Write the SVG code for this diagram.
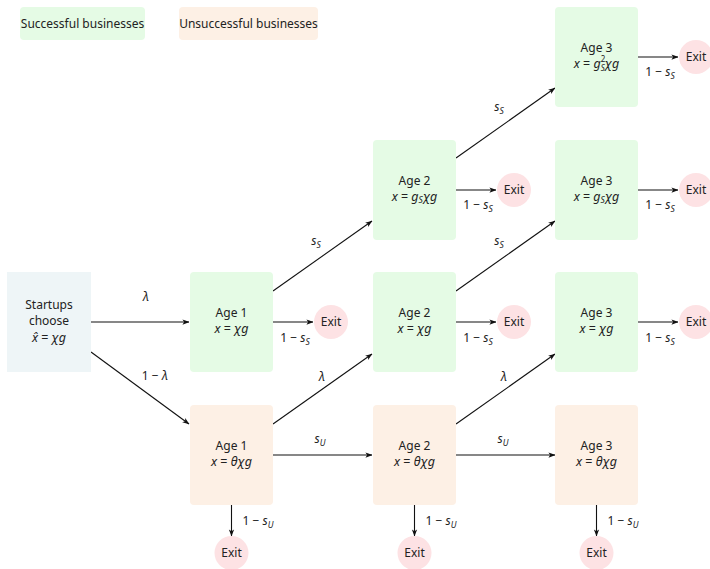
<svg xmlns="http://www.w3.org/2000/svg" width="710" height="569" viewBox="0 0 710 569">
<style>
text{font-family:"Noto Sans","Open Sans",sans-serif;font-size:12px;fill:#222;text-anchor:middle}
.f{font-size:12.5px}
.m{font-style:italic}
.sub{font-size:8.5px;font-style:italic}
.sup{font-size:8px}
.sub2{font-size:8px;font-style:italic}
.suc{fill:#e5fbe5}
.uns{fill:#fdf0e5}
.st{fill:#eef5f7}
.exit{fill:#fde2e4}
.c line{stroke:#111;stroke-width:1.1;marker-end:url(#ah)}
</style>
<defs>
<marker id="ah" viewBox="0 0 8 8" refX="7.5" refY="4" markerWidth="7" markerHeight="7" markerUnits="userSpaceOnUse" orient="auto">
<path d="M0,1 L8,4 L0,7 L2,4 Z" fill="#111"/>
</marker>
</defs>
<rect width="710" height="569" fill="#fff"/>

<g id="legend-successful"><rect class="suc" x="20" y="7" width="125" height="33" rx="4"/><text x="82.5" y="28">Successful businesses</text></g>
<g id="legend-unsuccessful"><rect class="uns" x="179" y="7" width="139" height="33" rx="4"/><text x="248.5" y="28">Unsuccessful businesses</text></g>

<g class="c" id="connectors">
<line x1="91" y1="322" x2="189" y2="322"/>
<line x1="91" y1="352" x2="189" y2="424"/>
<line x1="273" y1="291" x2="372" y2="221"/>
<line x1="273" y1="322" x2="313" y2="322"/>
<line x1="456" y1="158" x2="555" y2="88"/>
<line x1="456" y1="190" x2="496" y2="190"/>
<line x1="456" y1="291" x2="555" y2="221"/>
<line x1="456" y1="322" x2="496" y2="322"/>
<line x1="638" y1="57" x2="678" y2="57"/>
<line x1="638" y1="190" x2="678" y2="190"/>
<line x1="638" y1="322" x2="678" y2="322"/>
<line x1="273" y1="424" x2="372" y2="354"/>
<line x1="456" y1="424" x2="555" y2="354"/>
<line x1="273" y1="455" x2="372" y2="455"/>
<line x1="456" y1="455" x2="555" y2="455"/>
<line x1="231.5" y1="505" x2="231.5" y2="536"/>
<line x1="414.5" y1="505" x2="414.5" y2="536"/>
<line x1="596.5" y1="505" x2="596.5" y2="536"/>
</g>

<g id="edge-labels">
<text x="146" y="301" class="m">λ</text>
<text x="155" y="380">1 − <tspan class="m">λ</tspan></text>
<text x="316" y="245" class="m">s<tspan class="sub" dy="3">S</tspan></text>
<text x="499" y="111" class="m">s<tspan class="sub" dy="3">S</tspan></text>
<text x="499" y="245" class="m">s<tspan class="sub" dy="3">S</tspan></text>
<text x="322" y="381" class="m">λ</text>
<text x="504" y="381" class="m">λ</text>
<text x="320" y="443" class="m">s<tspan class="sub" dy="3">U</tspan></text>
<text x="503" y="443" class="m">s<tspan class="sub" dy="3">U</tspan></text>
<text x="295" y="342">1 − <tspan class="m">s</tspan><tspan class="sub" dy="3">S</tspan></text>
<text x="478" y="209">1 − <tspan class="m">s</tspan><tspan class="sub" dy="3">S</tspan></text>
<text x="478" y="342">1 − <tspan class="m">s</tspan><tspan class="sub" dy="3">S</tspan></text>
<text x="660" y="76">1 − <tspan class="m">s</tspan><tspan class="sub" dy="3">S</tspan></text>
<text x="660" y="209">1 − <tspan class="m">s</tspan><tspan class="sub" dy="3">S</tspan></text>
<text x="660" y="342">1 − <tspan class="m">s</tspan><tspan class="sub" dy="3">S</tspan></text>
<text x="258" y="525">1 − <tspan class="m">s</tspan><tspan class="sub" dy="3">U</tspan></text>
<text x="441" y="525">1 − <tspan class="m">s</tspan><tspan class="sub" dy="3">U</tspan></text>
<text x="623" y="525">1 − <tspan class="m">s</tspan><tspan class="sub" dy="3">U</tspan></text>
</g>

<g id="startups"><rect class="st" x="7" y="272" width="84" height="100"/>
<text x="49" y="309">Startups</text><text x="49" y="325">choose</text>
<text x="49" y="342" class="f"><tspan class="m">x̂</tspan> = <tspan class="m">χg</tspan></text></g>

<g id="s-age1"><rect class="suc" x="190" y="272" width="83" height="100" rx="4"/>
<text x="231.5" y="317">Age 1</text><text x="231.5" y="333" class="f"><tspan class="m">x</tspan> = <tspan class="m">χg</tspan></text></g>
<g id="s-age2-top"><rect class="suc" x="373" y="140" width="83" height="100" rx="4"/>
<text x="414.5" y="185">Age 2</text><text x="414.5" y="201" class="f"><tspan class="m">x</tspan> = <tspan class="m">g</tspan><tspan class="sub" dy="2">S</tspan><tspan class="m" dy="-2">χg</tspan></text></g>
<g id="s-age2"><rect class="suc" x="373" y="272" width="83" height="100" rx="4"/>
<text x="414.5" y="317">Age 2</text><text x="414.5" y="333" class="f"><tspan class="m">x</tspan> = <tspan class="m">χg</tspan></text></g>
<g id="s-age3-top"><rect class="suc" x="555" y="7" width="83" height="100" rx="4"/>
<text x="596.5" y="52">Age 3</text><text x="596.5" y="68" class="f"><tspan class="m">x</tspan> = <tspan class="m">g</tspan><tspan class="sup" dy="-6">2</tspan><tspan class="sub2" dx="-4.7" dy="9">S</tspan><tspan class="m" dy="-3">χg</tspan></text></g>
<g id="s-age3-mid"><rect class="suc" x="555" y="140" width="83" height="100" rx="4"/>
<text x="596.5" y="185">Age 3</text><text x="596.5" y="201" class="f"><tspan class="m">x</tspan> = <tspan class="m">g</tspan><tspan class="sub" dy="2">S</tspan><tspan class="m" dy="-2">χg</tspan></text></g>
<g id="s-age3"><rect class="suc" x="555" y="272" width="83" height="100" rx="4"/>
<text x="596.5" y="317">Age 3</text><text x="596.5" y="333" class="f"><tspan class="m">x</tspan> = <tspan class="m">χg</tspan></text></g>

<g id="u-age1"><rect class="uns" x="190" y="405" width="83" height="100" rx="4"/>
<text x="231.5" y="450">Age 1</text><text x="231.5" y="466" class="f"><tspan class="m">x</tspan> = <tspan class="m">θχg</tspan></text></g>
<g id="u-age2"><rect class="uns" x="373" y="405" width="83" height="100" rx="4"/>
<text x="414.5" y="450">Age 2</text><text x="414.5" y="466" class="f"><tspan class="m">x</tspan> = <tspan class="m">θχg</tspan></text></g>
<g id="u-age3"><rect class="uns" x="555" y="405" width="83" height="100" rx="4"/>
<text x="596.5" y="450">Age 3</text><text x="596.5" y="466" class="f"><tspan class="m">x</tspan> = <tspan class="m">θχg</tspan></text></g>

<g id="exit-1"><circle class="exit" cx="331" cy="322" r="17"/><text x="331" y="326">Exit</text></g>
<g id="exit-2"><circle class="exit" cx="514" cy="190" r="17"/><text x="514" y="194">Exit</text></g>
<g id="exit-3"><circle class="exit" cx="514" cy="322" r="17"/><text x="514" y="326">Exit</text></g>
<g id="exit-4"><circle class="exit" cx="696" cy="57" r="17"/><text x="696" y="61">Exit</text></g>
<g id="exit-5"><circle class="exit" cx="696" cy="190" r="17"/><text x="696" y="194">Exit</text></g>
<g id="exit-6"><circle class="exit" cx="696" cy="322" r="17"/><text x="696" y="326">Exit</text></g>
<g id="exit-7"><circle class="exit" cx="231.5" cy="553" r="17"/><text x="231.5" y="557">Exit</text></g>
<g id="exit-8"><circle class="exit" cx="414.5" cy="553" r="17"/><text x="414.5" y="557">Exit</text></g>
<g id="exit-9"><circle class="exit" cx="596.5" cy="553" r="17"/><text x="596.5" y="557">Exit</text></g>
</svg>
